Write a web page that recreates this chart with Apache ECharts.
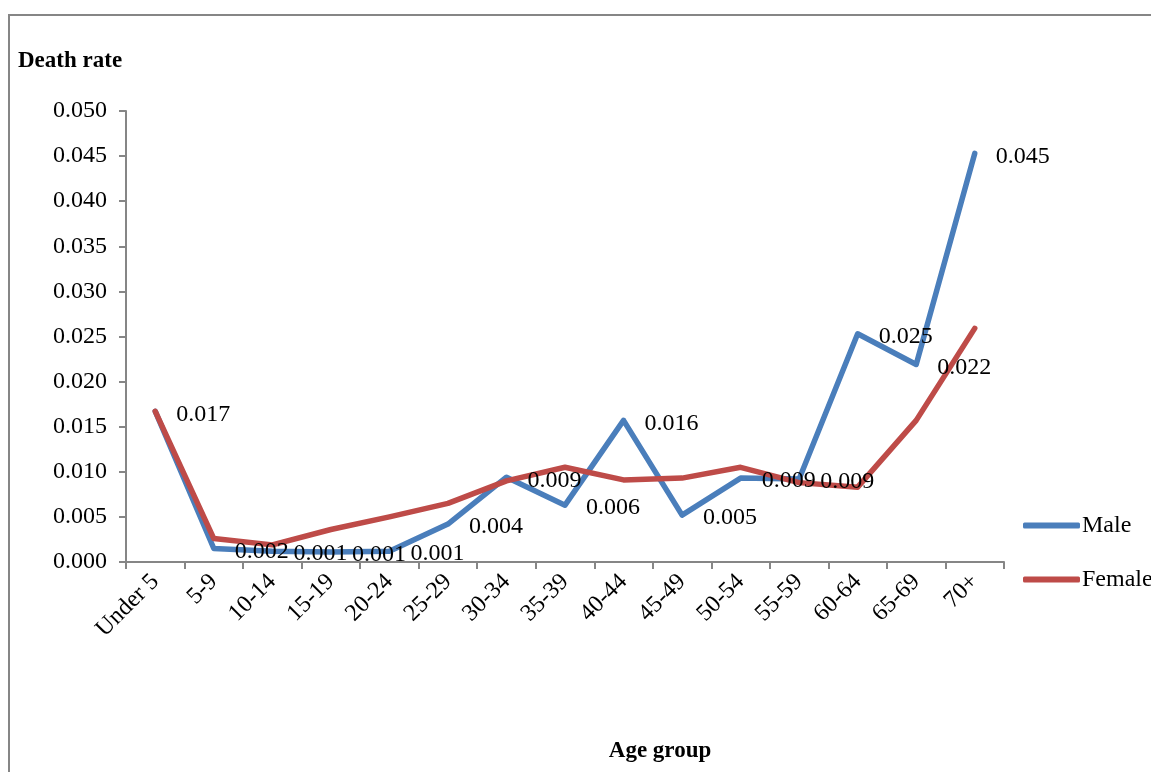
<!DOCTYPE html>
<html><head><meta charset="utf-8">
<script src="https://cdn.jsdelivr.net/npm/echarts@6/dist/echarts.min.js"></script>
<style>html,body{margin:0;padding:0;background:#fff}#c{width:1151px;height:772px}</style>
</head><body><div id="c"></div>
<script>
const categories = ['Under 5','5-9','10-14','15-19','20-24','25-29','30-34','35-39','40-44','45-49','50-54','55-59','60-64','65-69','70+'];
const male   = [0.0167,0.0015,0.0012,0.0011,0.0012,0.0042,0.0094,0.0063,0.0157,0.0052,0.0093,0.0092,0.0253,0.0219,0.0453];
const female = [0.0167,0.0026,0.0019,0.0036,0.0050,0.0065,0.0090,0.0105,0.0091,0.0093,0.0105,0.0088,0.0083,0.0157,0.0259];
const yTicks = [0, 0.005, 0.01, 0.015, 0.02, 0.025, 0.03, 0.035, 0.04, 0.045, 0.05];

const FONT = "'Liberation Serif','Times New Roman',serif";
const FS = 24;
const AXIS = '#868686';
const chart = echarts.init(document.getElementById('c'));
chart.setOption({
  animation: false,
  textStyle: {fontFamily: FONT},
  title: [
    {text: 'Death rate', left: 18, top: 50, padding: 0, textStyle: {fontFamily: FONT, fontSize: 23, fontWeight: 'bold', color: '#000'}},
    {text: 'Age group', left: 660, top: 740, padding: 0, textAlign: 'center', textStyle: {fontFamily: FONT, fontSize: 23, fontWeight: 'bold', color: '#000'}}
  ],
  graphic: [{type: 'rect', shape: {x: 9, y: 15, width: 1300, height: 900}, style: {fill: 'none', stroke: AXIS, lineWidth: 2}, silent: true}],
  grid: {left: 126, right: 147, top: 111, bottom: 210, containLabel: false},
  legend: {
    orient: 'vertical', left: 1023, top: 512, padding: 0,
    itemWidth: 57, itemHeight: 6, itemGap: 27, icon: 'roundRect',
    textStyle: {fontFamily: FONT, fontSize: FS, color: '#000', padding: [3,0,0,-3], lineHeight: 24},
    data: ['Male', 'Female']
  },
  xAxis: {
    type: 'category', data: categories, boundaryGap: true,
    axisLine: {lineStyle: {color: AXIS, width: 2}},
    axisTick: {show: true, length: 7, lineStyle: {color: AXIS, width: 2}},
    axisLabel: {rotate: 45, fontFamily: FONT, fontSize: FS, color: '#000', margin: 16, interval: 0}
  },
  yAxis: {
    type: 'value', min: 0, max: 0.05, interval: 0.005,
    axisLine: {show: true, lineStyle: {color: AXIS, width: 2}},
    axisTick: {show: true, length: 7, lineStyle: {color: AXIS, width: 2}},
    splitLine: {show: false},
    axisLabel: {fontFamily: FONT, fontSize: FS, color: '#000', margin: 19, padding: [6,0,0,0],
      formatter: v => { const t = yTicks.find(x => Math.abs(x - v) < 1e-9); return (t !== undefined ? t : v).toFixed(3); }}
  },
  series: [
    {name: 'Male', type: 'line', data: male, symbol: 'circle', symbolSize: 0.1, showSymbol: true,
      lineStyle: {color: '#4a7ebb', width: 5.5, cap: 'round', join: 'round'}, itemStyle: {color: '#4a7ebb'},
      label: {show: true, position: 'right', distance: 21, offset: [0, 3], fontFamily: FONT, fontSize: FS, color: '#000', formatter: p => p.value.toFixed(3)}},
    {name: 'Female', type: 'line', data: female, symbol: 'circle', symbolSize: 0.1, showSymbol: true,
      lineStyle: {color: '#be4b48', width: 5.5, cap: 'round', join: 'round'}, itemStyle: {color: '#be4b48'},
      label: {show: false}}
  ]
});
</script></body></html>
